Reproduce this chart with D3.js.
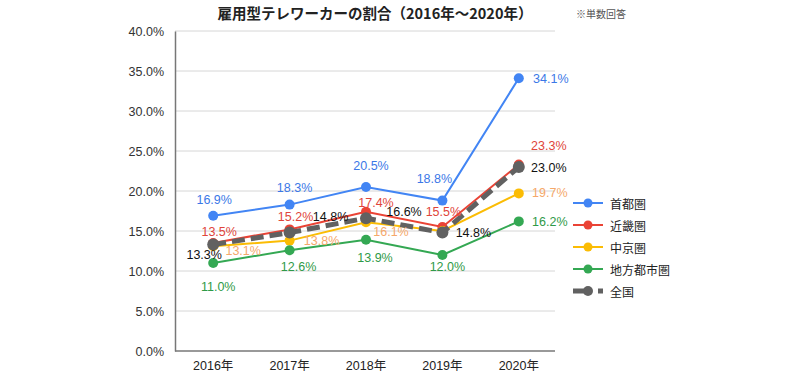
<!DOCTYPE html>
<html>
<head>
<meta charset="utf-8">
<script src="https://cdn.jsdelivr.net/npm/d3@7"></script>
<style>
  body { margin: 0; background: #fff; }
  text { font-family: "Liberation Sans", Arial, "Noto Sans CJK JP", sans-serif; }
  .jp { font-family: "Noto Sans CJK JP", sans-serif; }
</style>
</head>
<body>
<svg id="svg" width="800" height="374"></svg>
<script>
// data
const years = ["2016年", "2017年", "2018年", "2019年", "2020年"]
const shutoken = [16.9, 18.3, 20.5, 18.8, 34.1]
const kinki = [13.5, 15.2, 17.4, 15.5, 23.3]
const chukyo = [13.1, 13.8, 16.1, 15.0, 19.7]
const chiho = [11.0, 12.6, 13.9, 12.0, 16.2]
const zenkoku = [13.3, 14.8, 16.6, 14.8, 23.0]
const yTicks = [0, 5, 10, 15, 20, 25, 30, 35, 40]

const series = [
  {name: "首都圏", values: shutoken, color: "#4285f4", text: "#3b78e7"},
  {name: "近畿圏", values: kinki, color: "#ea4335", text: "#e0453a"},
  {name: "中京圏", values: chukyo, color: "#fbbc04", text: "#f5a86a"},
  {name: "地方都市圏", values: chiho, color: "#34a853", text: "#2f9a48"},
  {name: "全国", values: zenkoku, color: "#616161", text: "#111", dashed: true}
]

// label offsets [dx, dy] from each point (null = no label)
const labelOffsets = [
  [[1, -16], [5, -17], [5, -21], [-8, -22], [32, 1]],
  [[6, -11], [6, -12], [10, -9], [1, -15], [30, -19]],
  [[30, 5], [32, 0], [25, 10], null, [31, 0]],
  [[5, 24], [9, 17], [9, 18], [5, 12], [31, 1]],
  [[-9, 10], [41, -16], [38, -6], [31, 0], [30, 1]]
]

const svg = d3.select("#svg")
const mLeft = 175, mRight = 557, mTop = 31, mBottom = 351

const x = d3.scaleBand().domain(years).range([mLeft, mRight])
const y = d3.scaleLinear().domain([0, 40]).range([mBottom, mTop])

// grid
svg.append("g")
  .selectAll("line")
  .data(yTicks.filter(d => d > 0))
  .enter().append("line")
  .attr("x1", mLeft).attr("x2", 555)
  .attr("y1", d => y(d)).attr("y2", d => y(d))
  .attr("stroke", "#d6d6d6").attr("stroke-width", 1)

// axes
const yAxis = svg.append("g")
  .attr("transform", "translate(" + mLeft + ",0)")
  .call(d3.axisLeft(y).tickValues(yTicks).tickSize(0).tickPadding(11).tickFormat(d => d.toFixed(1) + "%"))
yAxis.select(".domain").attr("stroke", "#777").attr("stroke-width", 1.5)
yAxis.selectAll("text").attr("font-size", 12.5).attr("fill", "#333")
  .style("font-family", "'Liberation Sans', Arial, sans-serif")

const xAxis = svg.append("g")
  .attr("transform", "translate(0," + mBottom + ")")
  .call(d3.axisBottom(x).tickSize(0).tickPadding(10))
xAxis.select(".domain").attr("d", "M" + mLeft + ",0H555").attr("stroke", "#777").attr("stroke-width", 1.5)
xAxis.selectAll("text").attr("font-size", 12.5).attr("fill", "#222")
  .style("font-family", "'Liberation Sans', Arial, 'Noto Sans CJK JP', sans-serif")

const cx = (d, i) => x(years[i]) + x.bandwidth() / 2
const line = d3.line().x(cx).y(d => y(d))

series.forEach(s => {
  const g = svg.append("g")
  g.append("path")
    .attr("d", line(s.values))
    .attr("fill", "none")
    .attr("stroke", s.color)
    .attr("stroke-width", s.dashed ? 5 : 2)
    .attr("stroke-dasharray", s.dashed ? "13,6" : null)
  g.selectAll("circle")
    .data(s.values)
    .enter().append("circle")
    .attr("cx", cx)
    .attr("cy", d => y(d))
    .attr("r", s.dashed ? 6 : 5)
    .attr("fill", s.color)
})

// labels drawn on top
series.forEach((s, si) => {
  const pts = s.values.map((v, i) => ({v, i, off: labelOffsets[si][i]})).filter(p => p.off)
  svg.append("g")
    .selectAll("text")
    .data(pts)
    .enter().append("text")
    .attr("x", p => cx(p.v, p.i) + p.off[0])
    .attr("y", p => y(p.v) + p.off[1])
    .attr("text-anchor", "middle")
    .attr("dominant-baseline", "central")
    .attr("font-size", 12.5)
    .attr("fill", s.text)
    .text(p => p.v.toFixed(1) + "%")
})

// legend
const legend = svg.append("g")
  .selectAll("g")
  .data(series)
  .enter().append("g")
  .attr("transform", (d, i) => "translate(573," + (203 + i * 22) + ")")
legend.append("line")
  .attr("x1", 0).attr("x2", 30)
  .attr("stroke", d => d.color)
  .attr("stroke-width", d => d.dashed ? 5 : 2)
  .attr("stroke-dasharray", d => d.dashed ? "12,13" : null)
legend.append("circle")
  .attr("cx", 15).attr("r", d => d.dashed ? 5 : 4.5)
  .attr("fill", d => d.color)
legend.append("text")
  .attr("class", "jp")
  .attr("x", 37)
  .attr("dominant-baseline", "central")
  .attr("font-size", 12)
  .attr("fill", "#222")
  .text(d => d.name)

// title
svg.append("text")
  .attr("class", "jp")
  .attr("x", 375).attr("y", 12)
  .attr("text-anchor", "middle")
  .attr("dominant-baseline", "central")
  .attr("font-size", 14.5)
  .attr("font-weight", "bold")
  .attr("fill", "#222")
  .text("雇用型テレワーカーの割合（2016年～2020年）")

svg.append("text")
  .attr("class", "jp")
  .attr("x", 576).attr("y", 13)
  .attr("dominant-baseline", "central")
  .attr("font-size", 10)
  .attr("fill", "#555")
  .text("※単数回答")
</script>
</body>
</html>
